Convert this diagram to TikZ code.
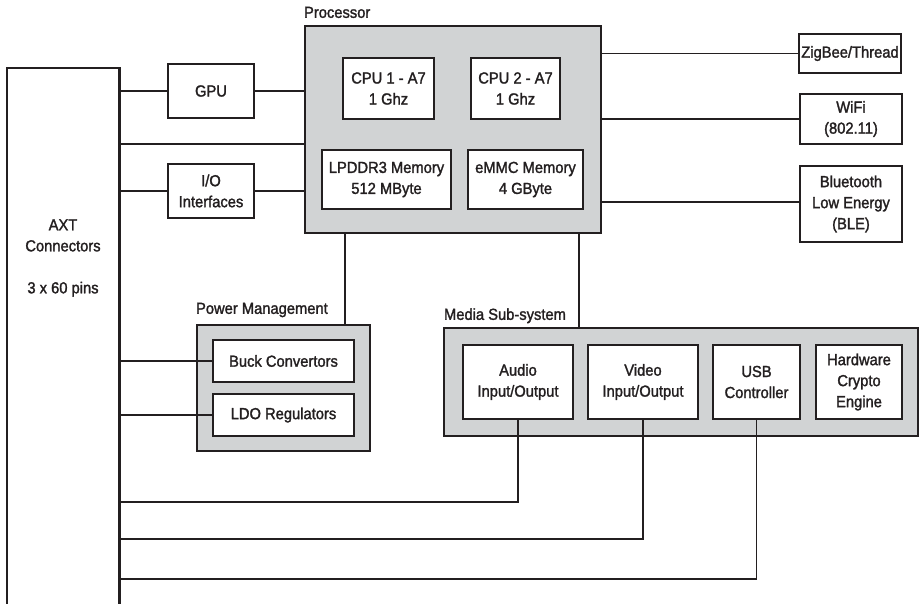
\documentclass[tikz,border=0pt]{standalone}
\usepackage{fontspec}
\setmainfont[FakeStretch=0.92, FakeBold=1.6]{Liberation Sans}
\usetikzlibrary{calc}
\definecolor{ink}{HTML}{231F20}
\definecolor{panel}{HTML}{D1D3D4}
\begin{document}
\begin{tikzpicture}[x=1pt,y=-1pt,
  font=\fontsize{16}{21}\selectfont,
  every node/.style={text=ink},
  blk/.style={draw=ink, line width=2.3pt, fill=white, align=center, inner sep=0pt},
  grp/.style={draw=ink, line width=2.3pt, fill=panel, inner sep=0pt},
  wire/.style={draw=ink, line width=1.9pt},
  grplabel/.style={anchor=base west, inner sep=0pt}]
\useasboundingbox (0,0) rectangle (920,604);

% AXT connector block (open at the bottom edge)
\node[minimum width=112pt, minimum height=536pt, inner sep=0pt, anchor=north west] (axt) at (7,68) {};
\draw[ink, line width=2.3pt] (axt.south west) -- (axt.north west) -- (axt.north east) -- (axt.south east);
\node[align=center] (axtlbl) at (63,258) {AXT\\Connectors\\[21pt]3 x 60 pins};

% Processor and its cores / memories
\node[grp, minimum width=296pt, minimum height=207pt] (proc) at (453,129.5) {};
\node[grplabel] (proclbl) at ($(proc.north west)+(0,-7)$) {Processor};
\node[blk, minimum width=91pt, minimum height=61pt] (cpu1) at (388.5,88.5) {CPU 1 - A7\\1 Ghz};
\node[blk, minimum width=89pt, minimum height=61pt] (cpu2) at (515.5,88.5) {CPU 2 - A7\\1 Ghz};
\node[blk, minimum width=129pt, minimum height=59pt] (lpddr) at (386.5,179.5) {LPDDR3 Memory\\512 MByte};
\node[blk, minimum width=115pt, minimum height=59pt] (emmc) at (525.5,179.5) {eMMC Memory\\4 GByte};

% Left-side peripherals
\node[blk, minimum width=86pt, minimum height=54pt] (gpu) at (211,91) {GPU};
\node[blk, minimum width=86pt, minimum height=54pt] (io) at (211,191) {I/O\\Interfaces};

% Radios
\node[blk, minimum width=102pt, minimum height=39pt] (zig) at (850,53.5) {ZigBee/Thread};
\node[blk, minimum width=102pt, minimum height=50pt] (wifi) at (851,119) {WiFi\\(802.11)};
\node[blk, minimum width=102pt, minimum height=76pt] (ble) at (851,204) {Bluetooth\\Low Energy\\(BLE)};

% Power management
\node[grp, minimum width=173pt, minimum height=126pt] (pm) at (283.5,388) {};
\node[grplabel] (pmlbl) at ($(pm.north west)+(0,-10)$) {Power Management};
\node[blk, minimum width=141pt, minimum height=42pt] (buck) at (283.5,361) {Buck Convertors};
\node[blk, minimum width=141pt, minimum height=42pt] (ldo) at (283.5,415) {LDO Regulators};

% Media sub-system
\node[grp, minimum width=474pt, minimum height=108pt] (media) at (681,382) {};
\node[grplabel] (medialbl) at ($(media.north west)+(1,-7)$) {Media Sub-system};
\node[blk, minimum width=110pt, minimum height=74pt] (audio) at (518,382) {Audio\\Input/Output};
\node[blk, minimum width=110pt, minimum height=74pt] (video) at (643,382) {Video\\Input/Output};
\node[blk, minimum width=87pt, minimum height=74pt] (usb) at (756.5,382) {USB\\Controller};
\node[blk, minimum width=86pt, minimum height=74pt] (crypto) at (859,382) {Hardware\\Crypto\\Engine};

% Tap points for the connector runs
\coordinate (bus) at (0,144);
\coordinate (bletap) at (0,202);
\coordinate (pmtap) at (345,0);
\coordinate (mtap) at (579,0);
\coordinate (ra) at (0,502);
\coordinate (rv) at (0,539);
\coordinate (ru) at (0,579);

% Connectors
\draw[wire] (axt.east |- gpu) -- (gpu.west);
\draw[wire] (gpu.east) -- (gpu.east -| proc.west);
\draw[wire] (axt.east |- bus) -- (proc.west |- bus);
\draw[wire] (axt.east |- io) -- (io.west);
\draw[wire] (io.east) -- (io.east -| proc.west);
\draw[wire] (proc.east |- zig) -- (zig.west);
\draw[wire] (proc.east |- wifi) -- (wifi.west);
\draw[wire] (proc.east |- bletap) -- (ble.west |- bletap);
\draw[wire] (proc.south -| pmtap) -- (pm.north -| pmtap);
\draw[wire] (proc.south -| mtap) -- (media.north -| mtap);
\draw[wire] (axt.east |- buck) -- (buck.west);
\draw[wire] (axt.east |- ldo) -- (ldo.west);
\draw[wire] (audio.south) |- (axt.east |- ra);
\draw[wire] (video.south) |- (axt.east |- rv);
\draw[wire] (usb.south) |- (axt.east |- ru);
\end{tikzpicture}
\end{document}
